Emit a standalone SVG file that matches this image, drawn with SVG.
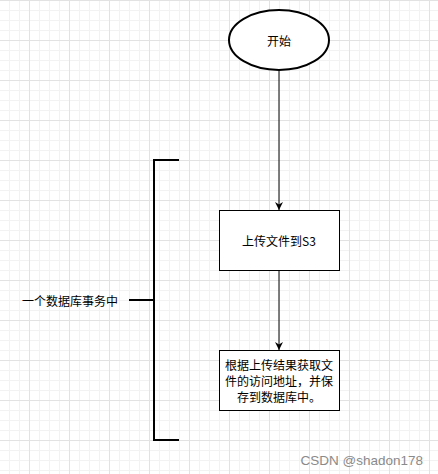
<svg xmlns="http://www.w3.org/2000/svg" width="438" height="474" viewBox="0 0 438 474">
<style>
.t{font-family:"Noto Sans CJK SC","Liberation Sans",sans-serif;font-size:12px;fill:#000;text-anchor:middle;dominant-baseline:central}
.box{fill:#fff;stroke:#000;stroke-width:1}
.edge{stroke:#000;stroke-width:1;fill:none}
.br{stroke:#000;stroke-width:2;fill:none}
</style>
<defs>
<pattern id="grid" patternUnits="userSpaceOnUse" x="29" y="0" width="40" height="40">
<rect x="10" y="0" width="1" height="40" fill="#f2f2f2"/>
<rect x="20" y="0" width="1" height="40" fill="#f2f2f2"/>
<rect x="30" y="0" width="1" height="40" fill="#f2f2f2"/>
<rect x="0" y="10" width="40" height="1" fill="#f2f2f2"/>
<rect x="0" y="20" width="40" height="1" fill="#f2f2f2"/>
<rect x="0" y="30" width="40" height="1" fill="#f2f2f2"/>
<rect x="0" y="0" width="1" height="40" fill="#e2e2e2"/>
<rect x="0" y="0" width="40" height="1" fill="#e2e2e2"/>
</pattern>
<marker id="arr" viewBox="0 0 10 10" refX="10" refY="5" markerWidth="8" markerHeight="8" markerUnits="userSpaceOnUse" orient="auto">
<path d="M0,0 L10,5 L0,10 L3,5 z" fill="#000"/>
</marker>
</defs>
<rect width="438" height="474" fill="#fff"/>
<rect width="438" height="474" fill="url(#grid)"/>
<g id="connectors">
<line class="edge" x1="279" y1="71" x2="279" y2="210" marker-end="url(#arr)"/>
<line class="edge" x1="279" y1="270" x2="279" y2="350" marker-end="url(#arr)"/>
</g>
<g id="start">
<ellipse cx="279" cy="40" rx="50" ry="30" fill="#fff" stroke="#000" stroke-width="2"/>
<text class="t" x="279" y="40">开始</text>
</g>
<g id="upload">
<rect class="box" x="219.5" y="210.5" width="120" height="60"/>
<text class="t" x="279" y="240">上传文件到S3</text>
</g>
<g id="save">
<rect class="box" x="219.5" y="350.5" width="120" height="60"/>
<text class="t" x="279" y="364">根据上传结果获取文</text>
<text class="t" x="279" y="380">件的访问地址，并保</text>
<text class="t" x="279" y="396">存到数据库中。</text>
</g>
<g id="transaction">
<path class="br" d="M179,160 H154 V440 H179 M129,300 H154"/>
<text class="t" x="70" y="300">一个数据库事务中</text>
</g>
<text x="423" y="465" font-family="'Liberation Sans',sans-serif" font-size="13.5" fill="#8a8a8a" text-anchor="end">CSDN @shadon178</text>
</svg>
